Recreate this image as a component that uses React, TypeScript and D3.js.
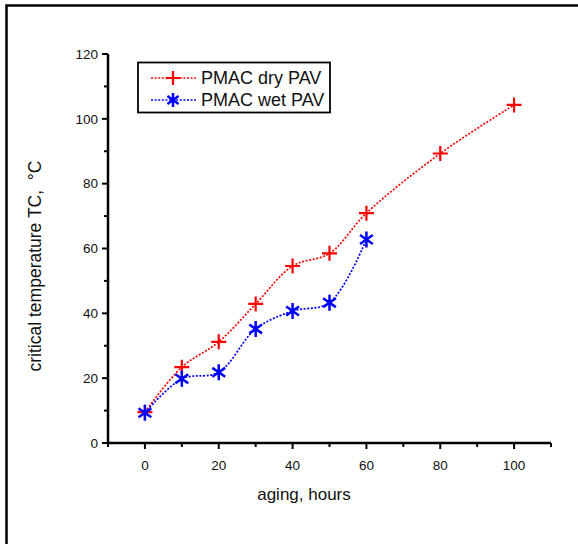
import * as d3 from 'd3';
import React, { useEffect, useRef } from 'react';

const dryHours = [0, 10, 20, 30, 40, 50, 60, 80, 100];
const dryTemp = [9.5, 23.4, 31.2, 42.9, 54.6, 58.5, 70.9, 89.3, 104.3];
const wetHours = [0, 10, 20, 30, 40, 50, 60];
const wetTemp = [9.3, 19.8, 21.8, 35.2, 40.7, 43.3, 62.8];
const xTicks = [0, 20, 40, 60, 80, 100];
const yTicks = [0, 20, 40, 60, 80, 100, 120];
const seriesNames = ['PMAC dry PAV', 'PMAC wet PAV'];

const width = 578;
const height = 544;
const font = 'Arial, "Liberation Sans", sans-serif';

function App() {
  const ref = useRef<SVGSVGElement>(null);

  useEffect(() => {
    const svg = d3.select(ref.current);
    svg.selectAll('*').remove();

    const x = d3.scaleLinear().domain([-10, 110]).range([108, 551]);
    const y = d3.scaleLinear().domain([0, 120]).range([443, 54]);

    // outer frame
    svg
      .append('rect')
      .attr('x', 6.5)
      .attr('y', 5.5)
      .attr('width', 600)
      .attr('height', 600)
      .attr('fill', 'none')
      .attr('stroke', '#000')
      .attr('stroke-width', 2.5);

    const line = d3
      .line<[number, number]>()
      .x((d) => x(d[0]))
      .y((d) => y(d[1]))
      .curve(d3.curveCatmullRom.alpha(0.5));

    const dry: [number, number][] = dryHours.map((h, i) => [h, dryTemp[i]]);
    const wet: [number, number][] = wetHours.map((h, i) => [h, wetTemp[i]]);

    svg
      .append('path')
      .attr('d', line(dry))
      .attr('fill', 'none')
      .attr('stroke', '#ff0000')
      .attr('stroke-width', 1.7)
      .attr('stroke-dasharray', '2,1.6');

    svg
      .append('path')
      .attr('d', line(wet))
      .attr('fill', 'none')
      .attr('stroke', '#0000ff')
      .attr('stroke-width', 1.7)
      .attr('stroke-dasharray', '2,1.6');

    function plus(g, cx, cy, s) {
      g.append('path')
        .attr('d', `M${cx - s},${cy}H${cx + s}M${cx},${cy - s}V${cy + s}`)
        .attr('stroke', '#ff0000')
        .attr('stroke-width', 2.2)
        .attr('fill', 'none');
    }
    function star(g, cx, cy, s) {
      const d = s * 0.8;
      g.append('path')
        .attr(
          'd',
          `M${cx},${cy - s}V${cy + s}M${cx - d},${cy - d * 0.7}L${cx + d},${cy + d * 0.7}M${cx - d},${cy + d * 0.7}L${cx + d},${cy - d * 0.7}`
        )
        .attr('stroke', '#0000ff')
        .attr('stroke-width', 2.5)
        .attr('fill', 'none');
    }

    const marks = svg.append('g');
    dry.forEach((d) => plus(marks, x(d[0]), y(d[1]), 7.5));
    wet.forEach((d) => star(marks, x(d[0]), y(d[1]), 8));

    // axes
    const xAxis = svg.append('g').attr('transform', `translate(0,${y(0)})`);
    xAxis
      .append('line')
      .attr('x1', x(-10))
      .attr('x2', x(110))
      .attr('stroke', '#000')
      .attr('stroke-width', 2.5);
    d3.range(-10, 111, 10).forEach((v) => {
      const major = v % 20 === 0;
      xAxis
        .append('line')
        .attr('x1', x(v))
        .attr('x2', x(v))
        .attr('y1', 0)
        .attr('y2', major ? 6 : 4)
        .attr('stroke', '#000')
        .attr('stroke-width', 2);
    });
    xTicks.forEach((v) => {
      xAxis
        .append('text')
        .attr('x', x(v))
        .attr('y', 27)
        .attr('text-anchor', 'middle')
        .attr('font-family', font)
        .attr('font-size', 13.5)
        .attr('fill', '#111')
        .text(v);
    });

    const yAxis = svg.append('g').attr('transform', `translate(${x(-10)},0)`);
    yAxis
      .append('line')
      .attr('y1', y(0) + 1)
      .attr('y2', y(120))
      .attr('stroke', '#000')
      .attr('stroke-width', 2.5);
    d3.range(0, 121, 10).forEach((v) => {
      const major = v % 20 === 0;
      yAxis
        .append('line')
        .attr('x1', 0)
        .attr('x2', major ? -6 : -4)
        .attr('y1', y(v))
        .attr('y2', y(v))
        .attr('stroke', '#000')
        .attr('stroke-width', 2);
    });
    yTicks.forEach((v) => {
      yAxis
        .append('text')
        .attr('x', -10)
        .attr('y', y(v))
        .attr('dy', '0.35em')
        .attr('text-anchor', 'end')
        .attr('font-family', font)
        .attr('font-size', 13.5)
        .attr('fill', '#111')
        .text(v);
    });

    svg
      .append('text')
      .attr('x', 304)
      .attr('y', 500)
      .attr('text-anchor', 'middle')
      .attr('font-family', font)
      .attr('font-size', 17)
      .attr('fill', '#111')
      .text('aging, hours');

    svg
      .append('text')
      .attr('transform', `translate(41,266) rotate(-90)`)
      .attr('text-anchor', 'middle')
      .attr('font-family', font)
      .attr('font-size', 17.5)
      .attr('fill', '#111')
      .style('white-space', 'pre')
      .text('critical temperature TC,  °C');

    // legend
    const lg = svg.append('g');
    lg.append('rect')
      .attr('x', 138)
      .attr('y', 62.5)
      .attr('width', 192)
      .attr('height', 50)
      .attr('fill', '#fff')
      .attr('stroke', '#000')
      .attr('stroke-width', 1.8);
    seriesNames.forEach((name, i) => {
      const ly = 78 + i * 22;
      lg.append('line')
        .attr('x1', 151)
        .attr('x2', 196)
        .attr('y1', ly)
        .attr('y2', ly)
        .attr('stroke', i === 0 ? '#ff0000' : '#0000ff')
        .attr('stroke-width', 1.7)
        .attr('stroke-dasharray', '2,1.6');
      if (i === 0) plus(lg, 173, ly, 7);
      else star(lg, 173, ly, 7);
      lg.append('text')
        .attr('x', 201)
        .attr('y', ly)
        .attr('dy', '0.36em')
        .attr('font-family', font)
        .attr('font-size', 18)
        .attr('fill', '#111')
        .text(name);
    });
  }, []);

  return (
    <svg
      ref={ref}
      width={width}
      height={height}
      style={{ position: 'absolute', left: 0, top: 0, background: '#fff' }}
    />
  );
}

export default App;
